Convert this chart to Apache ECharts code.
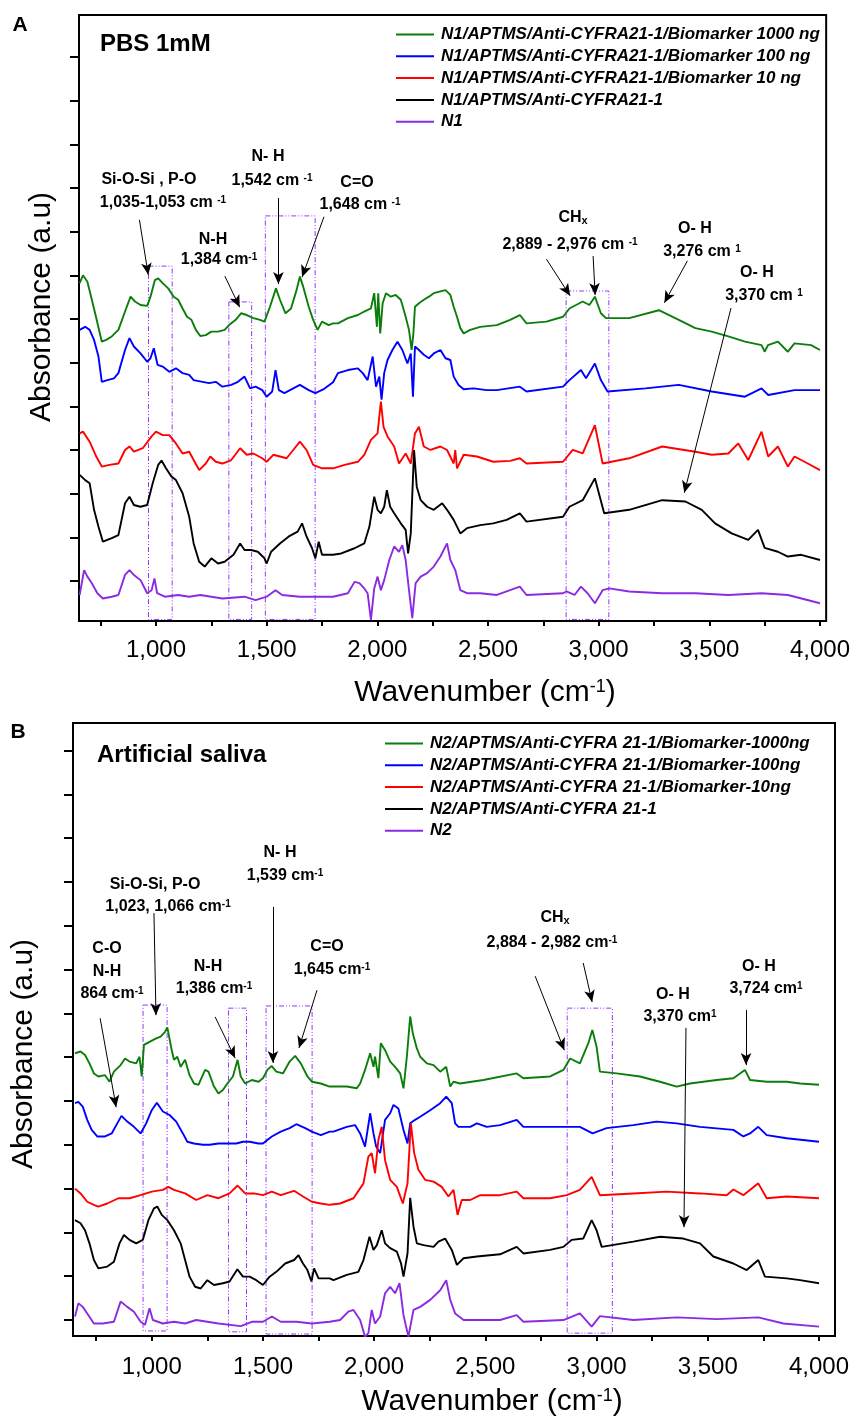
<!DOCTYPE html>
<html lang="en">
<head>
<meta charset="utf-8">
<title>FTIR spectra</title>
<script src="https://cdn.jsdelivr.net/npm/echarts@6/dist/echarts.min.js"></script>
<style>
  body { margin: 0; background: #fff; }
  #panel { width: 853px; height: 1420px; }
</style>
</head>
<body>
<div id="panel"></div>
<script type="text/javascript">
// ---- panel A : PBS 1mM ----
const namesA = [
  'N1/APTMS/Anti-CYFRA21-1/Biomarker 1000 ng',
  'N1/APTMS/Anti-CYFRA21-1/Biomarker 100 ng',
  'N1/APTMS/Anti-CYFRA21-1/Biomarker 10 ng',
  'N1/APTMS/Anti-CYFRA21-1',
  'N1'
];
const aGreen = [[655,6.82],[670,7.0],[690,6.85],[710,6.44],[730,6.02],[755,5.48],[775,5.52],[800,5.6],[830,5.75],[860,6.17],[885,6.51],[905,6.4],[930,6.32],[960,6.3],[975,6.51],[995,6.89],[1010,6.93],[1030,6.82],[1055,6.7],[1080,6.51],[1100,6.44],[1120,6.24],[1140,6.05],[1160,5.98],[1180,5.75],[1200,5.61],[1225,5.63],[1250,5.71],[1280,5.71],[1310,5.75],[1330,5.86],[1360,5.98],[1384,6.13],[1410,6.09],[1440,6.02],[1470,5.98],[1490,5.94],[1515,6.28],[1542,6.7],[1560,6.44],[1585,6.13],[1610,6.24],[1635,6.66],[1650,6.97],[1665,6.74],[1690,6.28],[1710,5.98],[1730,5.75],[1750,5.94],[1780,5.86],[1800,5.9],[1822,5.9],[1867,6.02],[1912,6.09],[1941,6.17],[1971,6.24],[1986,6.59],[1998,5.82],[2004,6.59],[2013,5.67],[2024,6.36],[2039,6.59],[2061,6.51],[2083,6.55],[2106,6.44],[2128,6.05],[2143,5.75],[2155,5.29],[2163,5.67],[2170,6.28],[2188,6.36],[2210,6.44],[2233,6.51],[2255,6.59],[2285,6.63],[2308,6.66],[2330,6.55],[2345,6.28],[2360,6.05],[2375,5.79],[2390,5.67],[2420,5.75],[2465,5.82],[2540,5.86],[2600,5.98],[2644,6.09],[2674,5.9],[2764,5.94],[2839,6.05],[2868,6.24],[2928,6.4],[2958,6.32],[2983,6.51],[3010,6.13],[3033,6.02],[3138,6.02],[3272,6.2],[3362,5.98],[3437,5.79],[3511,5.71],[3586,5.6],[3661,5.48],[3736,5.4],[3750,5.25],[3765,5.4],[3810,5.48],[3855,5.25],[3885,5.44],[3960,5.4],[4000,5.29]];
const aBlue = [[655,5.75],[680,5.82],[700,5.75],[720,5.52],[740,5.14],[755,4.56],[780,4.6],[810,4.64],[830,4.76],[860,5.29],[880,5.56],[900,5.37],[930,5.21],[960,5.02],[975,5.1],[990,5.33],[1007,4.95],[1030,4.91],[1060,4.79],[1090,4.87],[1120,4.76],[1150,4.72],[1170,4.6],[1210,4.56],[1240,4.53],[1270,4.56],[1300,4.45],[1340,4.49],[1370,4.56],[1400,4.68],[1425,4.41],[1450,4.45],[1480,4.37],[1500,4.22],[1525,4.34],[1540,4.83],[1555,4.37],[1580,4.3],[1620,4.41],[1650,4.49],[1690,4.37],[1720,4.3],[1760,4.4],[1800,4.55],[1822,4.76],[1867,4.83],[1912,4.87],[1934,4.76],[1956,4.6],[1979,5.14],[1994,4.45],[2009,4.68],[2019,4.15],[2031,4.76],[2046,5.06],[2068,5.29],[2091,5.48],[2113,5.29],[2136,4.98],[2151,5.21],[2161,4.22],[2170,5.37],[2188,5.29],[2210,5.18],[2233,5.1],[2255,5.21],[2285,5.29],[2308,5.1],[2330,5.06],[2345,4.68],[2367,4.49],[2390,4.39],[2435,4.41],[2494,4.37],[2540,4.37],[2644,4.45],[2674,4.34],[2839,4.45],[2868,4.6],[2920,4.83],[2943,4.64],[2983,4.98],[3010,4.6],[3040,4.34],[3212,4.41],[3362,4.49],[3511,4.34],[3661,4.22],[3736,4.41],[3766,4.26],[3885,4.37],[4000,4.37]];
const aRed = [[655,3.38],[670,3.42],[700,3.19],[730,2.85],[755,2.62],[790,2.66],[830,2.69],[860,3.0],[880,3.08],[900,2.96],[940,3.04],[980,3.31],[1000,3.42],[1030,3.34],[1060,3.34],[1090,3.15],[1120,2.92],[1150,2.96],[1170,2.77],[1195,2.54],[1225,2.69],[1245,2.85],[1270,2.73],[1300,2.69],[1340,2.77],[1380,3.04],[1410,2.89],[1440,2.92],[1480,2.81],[1500,2.73],[1530,2.89],[1560,2.85],[1590,2.81],[1620,3.0],[1650,3.19],[1680,3.0],[1710,2.66],[1750,2.58],[1800,2.58],[1852,2.66],[1912,2.73],[1941,2.89],[1971,3.23],[2001,3.38],[2016,4.11],[2028,3.53],[2046,3.31],[2076,3.08],[2098,2.69],[2128,2.92],[2151,2.69],[2170,3.38],[2188,3.53],[2210,3.08],[2240,3.0],[2285,3.08],[2315,3.0],[2345,2.69],[2352,3.0],[2360,2.58],[2390,2.89],[2450,2.85],[2524,2.73],[2600,2.75],[2644,2.81],[2674,2.69],[2839,2.73],[2883,3.0],[2928,2.92],[2983,3.57],[3018,2.69],[3138,2.81],[3287,3.08],[3437,2.96],[3511,2.89],[3586,2.92],[3631,3.15],[3676,2.77],[3736,3.42],[3766,2.85],[3810,3.08],[3855,2.62],[3885,2.85],[3945,2.69],[4000,2.54]];
const aBlack = [[655,2.43],[680,2.31],[700,2.24],[720,1.63],[740,1.24],[760,0.9],[800,0.98],[830,1.05],[860,1.78],[880,1.93],[900,1.74],[930,1.7],[960,1.74],[985,2.24],[1010,2.66],[1025,2.76],[1045,2.58],[1070,2.39],[1090,2.31],[1120,2.01],[1150,1.47],[1170,0.86],[1195,0.44],[1220,0.33],[1250,0.52],[1280,0.4],[1310,0.44],[1350,0.6],[1380,0.86],[1400,0.71],[1430,0.71],[1460,0.67],[1490,0.52],[1500,0.4],[1520,0.67],[1560,0.86],[1600,1.02],[1640,1.13],[1660,1.32],[1680,1.02],[1705,0.75],[1720,0.52],[1735,0.9],[1750,0.6],[1800,0.6],[1837,0.63],[1897,0.75],[1941,0.86],[1964,1.24],[1986,1.93],[2001,1.63],[2016,1.55],[2031,1.7],[2043,2.08],[2058,1.7],[2076,1.55],[2106,1.32],[2128,1.17],[2139,0.63],[2151,1.09],[2166,3.0],[2178,2.16],[2196,1.85],[2225,1.7],[2255,1.63],[2293,1.78],[2315,1.63],[2345,1.4],[2375,1.09],[2405,1.21],[2465,1.28],[2524,1.32],[2584,1.4],[2644,1.55],[2674,1.36],[2839,1.47],[2868,1.7],[2928,1.85],[2983,2.35],[3025,1.55],[3138,1.63],[3287,1.85],[3392,1.82],[3466,1.63],[3526,1.32],[3601,1.09],[3676,0.94],[3720,1.17],[3750,0.76],[3810,0.67],[3855,0.56],[3915,0.6],[4000,0.48]];
const aPurple = [[655,-0.32],[675,0.25],[690,0.1],[710,-0.05],[735,-0.28],[760,-0.4],[800,-0.36],[830,-0.32],[860,0.14],[880,0.25],[900,0.14],[930,0.02],[960,-0.28],[980,-0.21],[993,0.06],[1005,-0.28],[1040,-0.36],[1100,-0.32],[1150,-0.36],[1200,-0.32],[1300,-0.4],[1400,-0.36],[1450,-0.44],[1500,-0.36],[1540,-0.21],[1570,-0.32],[1650,-0.36],[1750,-0.36],[1800,-0.36],[1867,-0.28],[1897,-0.02],[1919,-0.05],[1941,-0.17],[1956,-0.28],[1971,-0.89],[1986,-0.17],[2001,0.1],[2016,-0.21],[2031,0.02],[2054,0.48],[2076,0.79],[2098,0.67],[2113,0.82],[2128,0.48],[2143,-0.21],[2158,-0.85],[2173,-0.05],[2196,0.1],[2225,0.18],[2255,0.33],[2285,0.56],[2315,0.86],[2330,0.48],[2352,0.25],[2375,-0.21],[2405,-0.28],[2465,-0.28],[2540,-0.32],[2644,-0.13],[2674,-0.32],[2839,-0.28],[2854,-0.24],[2891,-0.32],[2920,-0.13],[2950,-0.28],[2983,-0.51],[3018,-0.21],[3048,-0.17],[3138,-0.24],[3287,-0.28],[3437,-0.28],[3586,-0.32],[3736,-0.28],[3855,-0.32],[4000,-0.51]];

// ---- panel B : artificial saliva ----
const namesB = [
  'N2/APTMS/Anti-CYFRA 21-1/Biomarker-1000ng',
  'N2/APTMS/Anti-CYFRA 21-1/Biomarker-100ng',
  'N2/APTMS/Anti-CYFRA 21-1/Biomarker-10ng',
  'N2/APTMS/Anti-CYFRA 21-1',
  'N2'
];
const bGreen = [[655,6.09],[680,6.13],[700,6.05],[720,5.86],[740,5.63],[760,5.56],[790,5.59],[810,5.44],[830,5.67],[860,5.82],[880,5.97],[900,5.9],[930,5.86],[945,6.01],[955,5.56],[965,6.28],[990,6.35],[1020,6.43],[1040,6.47],[1060,6.58],[1070,6.68],[1090,6.16],[1100,5.94],[1115,6.01],[1130,5.78],[1150,5.94],[1170,5.59],[1190,5.4],[1210,5.37],[1240,5.71],[1255,5.67],[1280,5.33],[1300,5.17],[1320,5.25],[1340,5.4],[1365,5.56],[1386,5.94],[1400,5.56],[1420,5.4],[1450,5.48],[1480,5.44],[1500,5.52],[1520,5.71],[1539,5.8],[1560,5.67],[1590,5.63],[1620,5.9],[1645,6.03],[1670,5.86],[1700,5.56],[1720,5.44],[1760,5.4],[1800,5.33],[1817,5.33],[1877,5.33],[1922,5.29],[1937,5.4],[1959,5.71],[1982,6.09],[1997,5.78],[2004,6.01],[2019,5.52],[2030,6.32],[2049,6.16],[2072,5.9],[2094,5.78],[2117,5.63],[2132,5.29],[2147,6.01],[2162,6.93],[2174,6.54],[2192,6.2],[2207,6.01],[2237,5.86],[2267,5.82],[2297,5.67],[2324,5.78],[2342,5.33],[2357,5.44],[2386,5.4],[2491,5.48],[2641,5.63],[2671,5.52],[2791,5.56],[2851,5.71],[2881,5.97],[2925,5.86],[2963,6.32],[2981,6.62],[3000,6.24],[3015,5.67],[3090,5.63],[3195,5.56],[3285,5.44],[3360,5.33],[3420,5.4],[3540,5.48],[3615,5.52],[3645,5.63],[3667,5.71],[3690,5.48],[3765,5.44],[3855,5.44],[3915,5.4],[4000,5.37]];
const bBlue = [[655,4.95],[670,4.98],[690,4.87],[710,4.57],[730,4.34],[755,4.19],[790,4.19],[820,4.26],[845,4.49],[864,4.66],[890,4.53],[920,4.41],[950,4.26],[975,4.49],[1000,4.79],[1023,4.96],[1050,4.76],[1080,4.68],[1110,4.53],[1140,4.26],[1160,4.07],[1190,4.03],[1230,4.0],[1260,4.0],[1300,4.03],[1340,4.03],[1380,4.03],[1410,4.07],[1440,4.07],[1480,4.03],[1500,4.03],[1540,4.19],[1580,4.3],[1620,4.38],[1650,4.47],[1690,4.38],[1720,4.3],[1760,4.22],[1800,4.3],[1817,4.3],[1877,4.41],[1914,4.45],[1937,4.26],[1959,3.96],[1982,4.72],[1997,4.26],[2009,3.96],[2027,3.81],[2049,4.57],[2072,4.72],[2087,4.91],[2109,4.83],[2132,4.34],[2150,4.03],[2162,4.49],[2184,4.57],[2207,4.64],[2252,4.79],[2297,4.95],[2324,5.1],[2349,4.95],[2364,4.49],[2379,4.41],[2432,4.41],[2462,4.49],[2506,4.41],[2566,4.45],[2641,4.57],[2671,4.41],[2791,4.41],[2925,4.41],[2982,4.26],[3045,4.38],[3165,4.45],[3270,4.53],[3360,4.49],[3465,4.41],[3615,4.34],[3660,4.19],[3690,4.26],[3727,4.41],[3765,4.22],[3855,4.15],[4000,4.07]];
const bRed = [[655,3.0],[680,2.89],[710,2.7],[740,2.63],[760,2.59],[800,2.66],[850,2.78],[900,2.78],[950,2.85],[1000,2.93],[1050,2.97],[1075,3.04],[1100,2.97],[1150,2.89],[1200,2.74],[1250,2.85],[1300,2.78],[1350,2.89],[1386,3.07],[1420,2.89],[1460,2.89],[1500,2.85],[1540,2.93],[1580,2.85],[1640,2.95],[1680,2.82],[1720,2.7],[1760,2.66],[1800,2.63],[1847,2.66],[1907,2.78],[1952,3.12],[1974,3.73],[1989,3.81],[2004,3.35],[2019,4.11],[2034,4.41],[2049,3.65],[2072,3.2],[2102,3.04],[2129,2.66],[2150,3.12],[2165,4.49],[2180,3.81],[2199,3.43],[2229,3.2],[2267,3.16],[2304,3.04],[2334,2.82],[2357,2.97],[2375,2.4],[2394,2.74],[2432,2.74],[2477,2.85],[2566,2.85],[2641,2.93],[2671,2.78],[2791,2.78],[2866,2.85],[2925,2.97],[2978,3.27],[3015,2.85],[3165,2.89],[3315,2.93],[3465,2.89],[3585,2.85],[3615,2.98],[3660,2.85],[3727,3.12],[3765,2.78],[3855,2.82],[4000,2.78]];
const bBlack = [[655,2.28],[680,2.21],[700,2.05],[720,1.75],[740,1.37],[760,1.18],[800,1.22],[830,1.33],[855,1.75],[875,1.94],[900,1.83],[930,1.75],[960,1.83],[985,2.28],[1010,2.55],[1025,2.59],[1045,2.4],[1070,2.28],[1100,2.05],[1130,1.75],[1150,1.37],[1170,0.99],[1195,0.76],[1220,0.72],[1250,0.91],[1280,0.8],[1320,0.84],[1350,0.88],[1385,1.16],[1410,0.99],[1440,0.99],[1470,0.91],[1500,0.8],[1530,0.99],[1560,1.1],[1600,1.29],[1640,1.37],[1660,1.48],[1680,1.29],[1700,1.14],[1718,0.88],[1730,1.18],[1750,0.95],[1800,0.95],[1817,0.91],[1877,1.03],[1929,1.1],[1952,1.37],[1979,1.9],[1997,1.6],[2012,1.71],[2034,2.05],[2049,1.75],[2072,1.64],[2102,1.56],[2121,1.29],[2132,0.99],[2150,1.52],[2162,2.79],[2177,2.13],[2192,1.75],[2222,1.71],[2267,1.67],[2289,1.79],[2319,1.86],[2349,1.6],[2372,1.26],[2402,1.41],[2462,1.45],[2566,1.5],[2641,1.67],[2671,1.52],[2791,1.6],[2851,1.67],[2888,1.83],[2940,1.86],[2978,2.28],[3000,2.05],[3023,1.67],[3165,1.79],[3285,1.9],[3390,1.86],[3465,1.75],[3525,1.45],[3615,1.29],[3675,1.14],[3727,1.37],[3757,0.99],[3855,0.95],[3915,0.91],[4000,0.84]];
const bPurple = [[655,0.08],[670,0.38],[690,0.3],[710,0.15],[740,-0.08],[780,-0.08],[830,-0.04],[860,0.42],[890,0.3],[920,0.19],[950,-0.04],[970,-0.11],[990,0.27],[1005,0.0],[1050,-0.08],[1100,-0.04],[1150,-0.08],[1200,0.0],[1300,-0.08],[1400,-0.14],[1450,-0.04],[1500,-0.04],[1540,0.08],[1580,-0.04],[1650,-0.04],[1720,-0.08],[1800,-0.04],[1847,0.0],[1884,0.19],[1907,0.23],[1937,0.0],[1959,-0.38],[1974,-0.3],[1989,0.23],[2004,-0.08],[2027,0.08],[2049,0.61],[2072,0.76],[2094,0.61],[2114,0.84],[2132,0.11],[2154,-0.38],[2177,0.23],[2207,0.3],[2252,0.46],[2297,0.68],[2324,0.91],[2342,0.46],[2364,0.15],[2402,0.0],[2477,0.0],[2566,0.0],[2641,0.11],[2671,-0.04],[2851,0.0],[2925,0.15],[2978,-0.15],[3015,0.09],[3165,0.0],[3360,0.06],[3540,0.02],[3727,0.06],[3840,-0.08],[4000,-0.15]];

// axis ticks
const xTicks = [750,1000,1250,1500,1750,2000,2250,2500,2750,3000,3250,3500,3750,4000];
const xLabels = [1000,1500,2000,2500,3000,3500,4000];
const yTicksA = [0,1,2,3,4,5,6,7,8,9,10,11,12];
const yTicksB = [0,1,2,3,4,5,6,7,8,9,10,11,12,13];

// annotation arrows [x1,y1,x2,y2] and dashed boxes [x1,x2,y1,y2] in data units
const arrowsA = [[925,8.27,965,7.01],[1311,6.98,1378,6.27],[1553,8.77,1553,6.8],[1759,8.34,1660,6.96],[2764,7.37,2871,6.53],[2975,7.44,2984,6.55],[3401,7.33,3297,6.37],[3598,6.25,3387,2.02]];
const boxesA = [[966,1073,-0.88,7.21],[1329,1432,-0.88,6.39],[1494,1719,-0.88,8.36],[2853,3046,-0.88,6.64]];
const arrowsB = [[768,6.89,840,4.86],[1010,9.29,1019,6.96],[1285,6.92,1375,5.98],[1545,9.43,1545,5.87],[1743,7.53,1662,6.21],[2724,7.85,2855,6.16],[2940,8.15,2980,7.26],[3402,6.67,3393,2.12],[3672,7.08,3672,5.82]];
const boxesB = [[961,1069,-0.25,7.19],[1345,1426,-0.27,7.12],[1514,1721,-0.32,7.17],[2868,3071,-0.3,7.12]];

// peak labels [text, x, y] (page pixels)
const notesA = [
  ['Si-O-Si , P-O',149,180],['1,035-1,053 cm {s|-1}',163,203],
  ['N-H',213,240],['1,384 cm{s|-1}',219,260],
  ['N- H',268,157],['1,542 cm {s|-1}',272,181],
  ['C=O',357,183],['1,648 cm {s|-1}',360,205],
  ['CH{b|x}',573,218],['2,889 - 2,976 cm {s|-1}',570,245],
  ['O- H',695,229],['3,276 cm {s|1}',702,252],
  ['O- H',757,273],['3,370 cm {s|1}',764,296]
];
const notesB = [
  ['C-O',107,949],['N-H',107,972],['864 cm{s|-1}',112,994],
  ['Si-O-Si, P-O',155,885],['1,023, 1,066 cm{s|-1}',168,907],
  ['N-H',208,967],['1,386 cm{s|-1}',214,989],
  ['N- H',280,853],['1,539 cm{s|-1}',285,876],
  ['C=O',327,947],['1,645 cm{s|-1}',332,970],
  ['CH{b|x}',555,918],['2,884 - 2,982 cm{s|-1}',552,943],
  ['O- H',673,995],['3,370 cm{s|1}',680,1017],
  ['O- H',759,967],['3,724 cm{s|1}',766,989]
];

const colors = ['#0b7d0b', '#0000ff', '#ff0000', '#000000', '#8a2be2'];
const boxColor = '#9933ff';
const font = "'Liberation Sans', Arial, sans-serif";

const panel = echarts.init(document.getElementById('panel'), null, { renderer: 'canvas' });

function makeX(idx, min, max) {
  return {
    type: 'value', gridIndex: idx, min: min, max: max,
    splitLine: { show: false },
    axisLine: { show: false, onZero: false },
    axisTick: { show: true, inside: false, length: 5, customValues: xTicks, lineStyle: { color: '#000', width: 2 } },
    axisLabel: {
      show: true, customValues: xLabels, margin: idx === 0 ? 17 : 19,
      color: '#000', fontSize: 24, fontFamily: font,
      formatter: v => v.toLocaleString('en-US')
    }
  };
}
function makeY(idx, min, max, ticks) {
  return {
    type: 'value', gridIndex: idx, min: min, max: max,
    splitLine: { show: false },
    axisLine: { show: false, onZero: false },
    axisTick: { show: true, inside: false, length: 9, customValues: ticks, lineStyle: { color: '#000', width: 2 } },
    axisLabel: { show: false }
  };
}
function makeSeries(names, datas, idx, arrows, boxes) {
  return datas.map((d, i) => {
    const s = {
      name: names[i], type: 'line', xAxisIndex: idx, yAxisIndex: idx,
      data: d, symbol: 'none', smooth: false, animation: false,
      lineStyle: { color: colors[i], width: 1.9 }, itemStyle: { color: colors[i] }
    };
    if (i === 4) {
      s.markLine = {
        silent: true, animation: false, symbol: ['none', 'arrow'], symbolSize: [8, 12],
        lineStyle: { color: '#000', width: 1, type: 'solid' }, label: { show: false },
        data: arrows.map(a => [{ coord: [a[0], a[1]] }, { coord: [a[2], a[3]] }])
      };
      s.markArea = {
        silent: true, animation: false,
        itemStyle: { color: 'rgba(0,0,0,0)', borderColor: boxColor, borderWidth: 1, borderType: [5, 2, 1, 2, 1, 2] },
        data: boxes.map(b => [{ coord: [b[0], b[3]] }, { coord: [b[1], b[2]] }])
      };
    }
    return s;
  });
}
function makeNotes(notes) {
  return notes.map(n => ({
    type: 'text', x: n[1], y: n[2], z: 10,
    style: {
      text: n[0], fill: '#000', align: 'center', verticalAlign: 'middle',
      font: 'bold 16px ' + font,
      rich: {
        s: { fontSize: 10, fontWeight: 'bold', fontFamily: font, verticalAlign: 'top', lineHeight: 10 },
        b: { fontSize: 11, fontWeight: 'bold', fontFamily: font, verticalAlign: 'bottom', lineHeight: 10 }
      }
    }
  }));
}
function legendFor(names, left, top) {
  return {
    data: names.map((n, i) => ({ name: n, icon: 'rect', itemStyle: { color: colors[i] } })),
    orient: 'vertical', left: left, top: top, selectedMode: false,
    itemWidth: 38, itemHeight: 2, itemGap: 4.8, padding: 0,
    textStyle: { color: '#000', fontSize: 17, fontStyle: 'italic', fontWeight: 'bold', fontFamily: font, padding: [0, 0, 0, 2] }
  };
}

const option = {
  backgroundColor: '#fff',
  animation: false,
  grid: [
    { left: 79, top: 15, width: 753, height: 606, show: true, borderColor: '#000', borderWidth: 2, backgroundColor: 'transparent' },
    { left: 73, top: 723, width: 762, height: 613, show: true, borderColor: '#000', borderWidth: 2, backgroundColor: 'transparent' }
  ],
  xAxis: [makeX(0, 652, 4028), makeX(1, 646, 4072)],
  yAxis: [makeY(0, -0.916, 12.96, yTicksA), makeY(1, -0.365, 13.63, yTicksB)],
  legend: [legendFor(namesA, 396, 26), legendFor(namesB, 385, 735)],
  series: makeSeries(namesA, [aGreen, aBlue, aRed, aBlack, aPurple], 0, arrowsA, boxesA)
    .concat(makeSeries(namesB, [bGreen, bBlue, bRed, bBlack, bPurple], 1, arrowsB, boxesB)),
  graphic: [
    { type: 'text', x: 20, y: 25, style: { text: 'A', fill: '#000', font: 'bold 21px ' + font, align: 'center', verticalAlign: 'middle' } },
    { type: 'text', x: 18, y: 732, style: { text: 'B', fill: '#000', font: 'bold 21px ' + font, align: 'center', verticalAlign: 'middle' } },
    { type: 'text', x: 100, y: 44, style: { text: 'PBS 1mM', fill: '#000', font: 'bold 24px ' + font, align: 'left', verticalAlign: 'middle' } },
    { type: 'text', x: 97, y: 755, style: { text: 'Artificial saliva', fill: '#000', font: 'bold 24px ' + font, align: 'left', verticalAlign: 'middle' } },
    // axis titles
    { type: 'text', x: 485, y: 693, style: { text: 'Wavenumber (cm{s|-1})', fill: '#000', font: '30px ' + font, align: 'center', verticalAlign: 'middle',
      rich: { s: { fontSize: 18, fontFamily: font, verticalAlign: 'top', lineHeight: 16 } } } },
    { type: 'text', x: 492, y: 1402, style: { text: 'Wavenumber (cm{s|-1})', fill: '#000', font: '30px ' + font, align: 'center', verticalAlign: 'middle',
      rich: { s: { fontSize: 18, fontFamily: font, verticalAlign: 'top', lineHeight: 16 } } } },
    { type: 'text', x: 42, y: 307, rotation: Math.PI / 2, style: { text: 'Absorbance (a.u)', fill: '#000', font: '30px ' + font, align: 'center', verticalAlign: 'middle' } },
    { type: 'text', x: 24, y: 1054, rotation: Math.PI / 2, style: { text: 'Absorbance (a.u)', fill: '#000', font: '30px ' + font, align: 'center', verticalAlign: 'middle' } }
  ].concat(makeNotes(notesA)).concat(makeNotes(notesB))
};
panel.setOption(option);
</script>
</body>
</html>
